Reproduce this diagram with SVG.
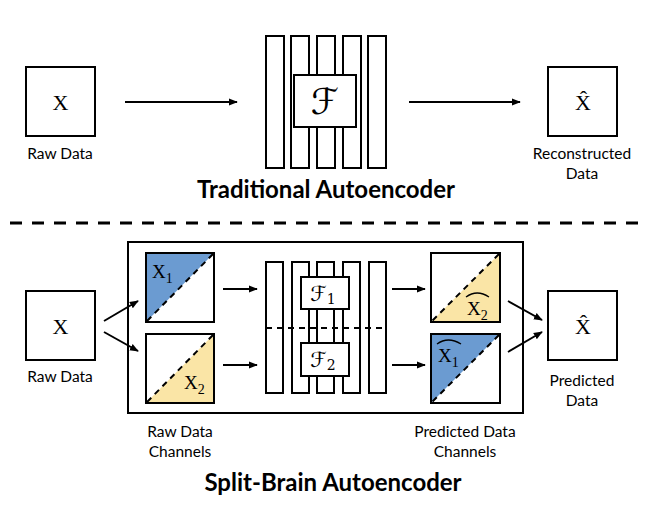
<svg xmlns="http://www.w3.org/2000/svg" width="656" height="518" viewBox="0 0 656 518">
<style>
.box{fill:#fff;stroke:#000;stroke-width:2}
.bar{fill:#fff;stroke:#000;stroke-width:2}
.ln{stroke:#000;stroke-width:2;fill:none}
.dash{stroke:#000;stroke-width:2;stroke-dasharray:6 5;fill:none}
.hat{stroke:#000;stroke-width:1.3;fill:none}
.lbl{font-family:Lato,"Liberation Sans",sans-serif;font-size:15.5px;fill:#000;text-anchor:middle}
.ttl{font-family:Lato,"Liberation Sans",sans-serif;font-size:24px;font-weight:bold;fill:#000;text-anchor:middle}
.x{font-family:"Liberation Serif","DejaVu Serif",serif;font-size:22px;fill:#000}
.xs{font-family:"Liberation Serif","DejaVu Serif",serif;font-size:19px;fill:#000}
.f{font-family:"DejaVu Serif","DejaVu Sans",serif;fill:#000;text-anchor:middle}
.blue{fill:#6b9bd1}
.yel{fill:#fae5a6}
</style>
<defs>
<marker id="ah" viewBox="0 0 10 10" refX="9" refY="5" markerWidth="4.5" markerHeight="4.5" orient="auto" markerUnits="strokeWidth">
<path d="M0,1 L10,5 L0,9 z" fill="#000"/>
</marker>
</defs>

<!-- Top: traditional autoencoder -->
<g id="top-input">
<rect class="box" x="26" y="67" width="69" height="69"/>
<text class="x" x="60.5" y="110" text-anchor="middle">X</text>
<text class="lbl" x="60" y="159">Raw Data</text>
</g>
<g id="top-network">
<rect class="bar" x="266" y="36" width="18" height="132"/>
<rect class="bar" x="291" y="36" width="18" height="132"/>
<rect class="bar" x="317" y="36" width="18" height="132"/>
<rect class="bar" x="343" y="36" width="18" height="132"/>
<rect class="bar" x="368" y="36" width="18" height="132"/>
<rect class="box" x="294" y="75" width="62" height="52"/>
<text class="f" x="325" y="114" font-size="36" font-style="italic">ℱ</text>
</g>
<g id="top-output">
<rect class="box" x="548" y="67" width="69" height="69"/>
<text class="x" x="583" y="110" text-anchor="middle">X̂</text>
<text class="lbl" x="582" y="159">Reconstructed</text>
<text class="lbl" x="582" y="179">Data</text>
</g>
<text class="ttl" x="326" y="198">Traditional Autoencoder</text>

<line id="separator" x1="10" y1="223" x2="642" y2="223" stroke="#000" stroke-width="3" stroke-dasharray="12 10"/>

<!-- Bottom: split-brain autoencoder -->
<g id="sb-frame">
<rect class="box" x="128" y="242" width="395" height="171"/>
</g>
<g id="sb-input">
<rect class="box" x="26" y="291" width="69" height="69"/>
<text class="x" x="60.5" y="334" text-anchor="middle">X</text>
<text class="lbl" x="60" y="382">Raw Data</text>
</g>
<g id="sb-x1">
<rect class="box" x="146" y="253" width="68" height="69"/>
<polygon class="blue" points="147,254 213,254 147,321"/>
<line class="dash" x1="213" y1="254" x2="147" y2="321"/>
<rect x="146" y="253" width="68" height="69" fill="none" stroke="#000" stroke-width="2"/>
<text class="xs" x="152" y="278">X<tspan font-size="14" dy="5">1</tspan></text>
</g>
<g id="sb-x2">
<rect class="box" x="146" y="334" width="68" height="69"/>
<polygon class="yel" points="213,335 213,402 147,402"/>
<line class="dash" x1="213" y1="335" x2="147" y2="402"/>
<rect x="146" y="334" width="68" height="69" fill="none" stroke="#000" stroke-width="2"/>
<text class="xs" x="184" y="389">X<tspan font-size="14" dy="5">2</tspan></text>
</g>
<text class="lbl" x="180" y="437">Raw Data</text>
<text class="lbl" x="180" y="457">Channels</text>

<g id="sb-network">
<rect class="bar" x="266" y="262" width="17" height="131"/>
<rect class="bar" x="292" y="262" width="17" height="131"/>
<rect class="bar" x="317" y="262" width="17" height="131"/>
<rect class="bar" x="343" y="262" width="17" height="131"/>
<rect class="bar" x="369" y="262" width="17" height="131"/>
<line class="dash" x1="266" y1="328" x2="386" y2="328"/>
<rect class="box" x="301" y="277" width="48" height="32"/>
<text class="f" x="323" y="301" font-size="21" font-style="italic">ℱ<tspan font-size="14" font-style="normal" dy="3">1</tspan></text>
<rect class="box" x="301" y="343" width="48" height="33"/>
<text class="f" x="323" y="367" font-size="21" font-style="italic">ℱ<tspan font-size="14" font-style="normal" dy="3">2</tspan></text>
</g>

<g id="sb-xhat2">
<rect class="box" x="431" y="253" width="69" height="69"/>
<polygon class="yel" points="499,254 499,321 432,321"/>
<line class="dash" x1="499" y1="254" x2="432" y2="321"/>
<rect x="431" y="253" width="69" height="69" fill="none" stroke="#000" stroke-width="2"/>
<text class="xs" x="467" y="315">X<tspan font-size="14" dy="5">2</tspan></text>
<path class="hat" d="M466,297 Q477,289 489,297"/>
</g>
<g id="sb-xhat1">
<rect class="box" x="431" y="334" width="69" height="69"/>
<polygon class="blue" points="432,335 499,335 432,402"/>
<line class="dash" x1="499" y1="335" x2="432" y2="402"/>
<rect x="431" y="334" width="69" height="69" fill="none" stroke="#000" stroke-width="2"/>
<text class="xs" x="438" y="362">X<tspan font-size="14" dy="5">1</tspan></text>
<path class="hat" d="M437,344 Q448,336 461,344"/>
</g>
<text class="lbl" x="465" y="437">Predicted Data</text>
<text class="lbl" x="465" y="457">Channels</text>

<g id="sb-output">
<rect class="box" x="548" y="291" width="69" height="69"/>
<text class="x" x="583" y="334" text-anchor="middle">X̂</text>
<text class="lbl" x="582" y="386">Predicted</text>
<text class="lbl" x="582" y="406">Data</text>
</g>
<text class="ttl" x="333" y="491">Split-Brain Autoencoder</text>

<g id="connectors">
<line class="ln" x1="125" y1="102" x2="237" y2="102" marker-end="url(#ah)"/>
<line class="ln" x1="409" y1="102" x2="520" y2="102" marker-end="url(#ah)"/>
<line class="ln" x1="104" y1="321" x2="138" y2="301" marker-end="url(#ah)"/>
<line class="ln" x1="104" y1="332" x2="138" y2="351" marker-end="url(#ah)"/>
<line class="ln" x1="223" y1="289" x2="257" y2="289" marker-end="url(#ah)"/>
<line class="ln" x1="223" y1="365" x2="257" y2="365" marker-end="url(#ah)"/>
<line class="ln" x1="392" y1="289" x2="425" y2="289" marker-end="url(#ah)"/>
<line class="ln" x1="392" y1="365" x2="425" y2="365" marker-end="url(#ah)"/>
<line class="ln" x1="508" y1="301" x2="542" y2="320" marker-end="url(#ah)"/>
<line class="ln" x1="508" y1="352" x2="542" y2="332" marker-end="url(#ah)"/>
</g>
</svg>
